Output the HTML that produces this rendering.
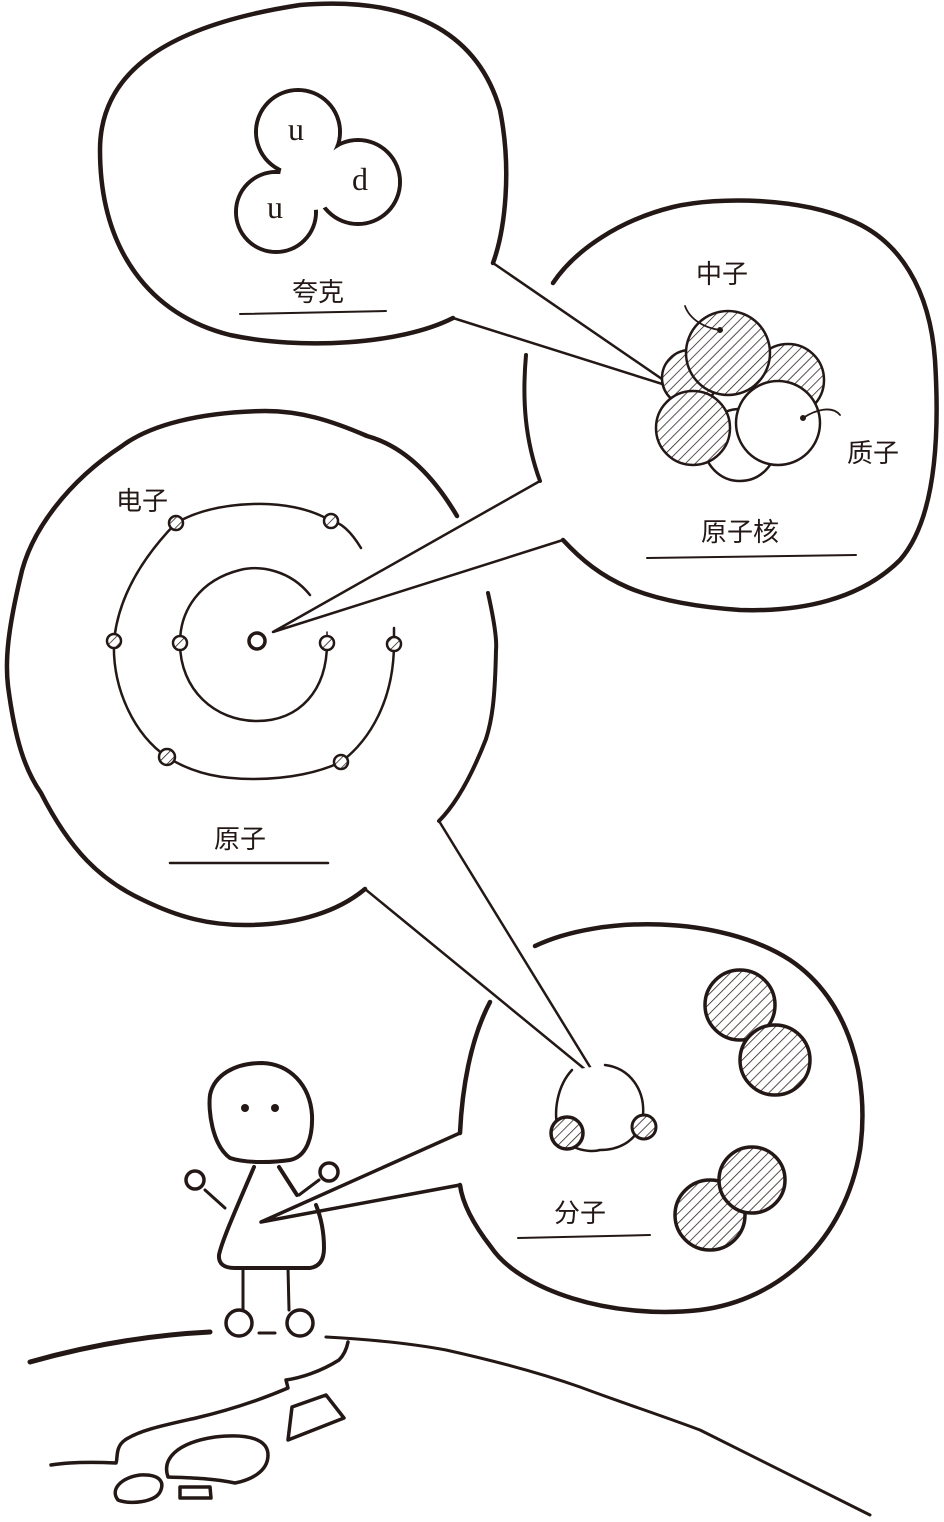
<!DOCTYPE html>
<html><head><meta charset="utf-8"><style>
html,body{margin:0;padding:0;background:#fff}
svg{display:block}
text{font-family:"Liberation Sans","Noto Sans CJK SC",sans-serif;fill:#231815}
</style></head><body>
<svg width="944" height="1522" viewBox="0 0 944 1522" xmlns="http://www.w3.org/2000/svg">
<defs>
<pattern id="h" width="7" height="7" patternUnits="userSpaceOnUse" patternTransform="rotate(45)">
<rect width="7" height="7" fill="#fff"/><line x1="0" y1="0" x2="0" y2="7" stroke="#231815" stroke-width="1.5"/>
</pattern>
</defs>
<g fill="none" stroke="#231815" stroke-linecap="round" stroke-linejoin="round">
<!-- quark bubble -->
<path stroke-width="4.5" d="M453,318 C400,345 300,350 230,335 C150,315 100,250 100,150 C100,70 170,25 300,5 C420,-5 480,40 500,110 C512,170 505,230 493,263"/>
<path stroke-width="2.5" d="M493,263 L675,388 L453,318"/>
<!-- trefoil -->
<g stroke-width="4">
<circle cx="298" cy="132" r="42"/><circle cx="358" cy="182" r="42"/><circle cx="276" cy="212" r="40"/>
</g>
<g fill="#fff" stroke="none">
<circle cx="298" cy="132" r="40"/><circle cx="358" cy="182" r="40"/><circle cx="276" cy="212" r="38"/><circle cx="312" cy="178" r="32"/>
</g>
<path stroke-width="2" d="M240,314 L386,311"/>
<!-- nucleus bubble -->
<path stroke-width="4.5" d="M563,540 C600,580 640,603 740,610 C800,612 860,600 900,560 C935,520 940,440 935,360 C930,290 900,240 850,220 C800,198 720,196 673,207 C620,220 575,250 553,283"/>
<path stroke-width="4" d="M526,355 C522,400 525,440 540,481"/>
<path stroke-width="2.5" d="M540,481 L273,632 L563,540"/>
<!-- nucleus spheres -->
<g stroke-width="2.5">
<circle cx="740" cy="445" r="36" fill="#fff"/>
<circle cx="788" cy="380" r="36" fill="url(#h)"/>
<circle cx="690" cy="378" r="28" fill="url(#h)"/>
<circle cx="728" cy="353" r="42" fill="url(#h)"/>
<circle cx="693" cy="428" r="37" fill="url(#h)"/>
<circle cx="778" cy="423" r="42" fill="#fff"/>
</g>
<path stroke-width="1.8" d="M685,306 C690,320 705,328 720,330"/>
<path stroke-width="1.8" d="M803,418 C815,410 832,405 840,415"/>
<circle cx="720" cy="330" r="2.5" fill="#231815"/><circle cx="803" cy="418" r="2.5" fill="#231815"/>
<path stroke-width="2" d="M647,558 L856,555"/>
<!-- atom bubble -->
<path stroke-width="4.5" d="M457,516 C430,470 400,445 367,436 C330,420 300,411 265,411 C200,412 150,425 122,446 C70,480 30,530 20,579 C8,630 5,660 8,686 C15,740 25,770 41,793 C70,850 100,880 143,900 C180,918 210,925 245,925 C300,925 340,910 365,889"/>
<path stroke-width="4" d="M488,593 C494,620 497,640 496,650 C495,700 492,720 486,739 C470,780 455,805 439,821"/>
<path stroke-width="2.5" d="M365,889 L598,1080 L439,821"/>
<!-- orbits -->
<path stroke-width="2.5" d="M310,595 C290,570 260,565 240,570 C200,580 180,610 180,643 C180,690 215,721 257,721 C300,721 327,690 327,643"/>
<path stroke-width="2.5" d="M361,548 C350,530 340,522 331,521 C310,508 280,503 253,504 C220,505 195,512 176,523 C140,560 118,600 114,641 C112,690 135,735 167,757 C195,775 225,779 253,779 C290,779 320,772 341,762 C370,740 394,700 394,643 L394,628"/>
<path stroke-width="1.5" d="M327,643 L327,632"/>
<g stroke-width="2.5" fill="url(#h)">
<circle cx="176" cy="523" r="7"/><circle cx="331" cy="521" r="7"/><circle cx="114" cy="641" r="7"/><circle cx="180" cy="643" r="7"/>
<circle cx="327" cy="643" r="7"/><circle cx="394" cy="644" r="7"/><circle cx="167" cy="757" r="8"/><circle cx="341" cy="762" r="7"/>
</g>
<circle cx="257" cy="641" r="8" stroke-width="3.5" fill="#fff"/>
<path stroke-width="2.5" d="M170,863 L328,863"/>
<!-- molecule bubble -->
<path stroke-width="4.5" d="M535,946 C600,915 720,915 790,960 C850,1000 870,1080 860,1150 C845,1240 780,1300 700,1310 C610,1320 520,1290 491,1247 C470,1220 462,1200 460,1185"/>
<path stroke-width="4.5" d="M460,1133 C462,1090 470,1040 490,1002"/>
<path stroke-width="3.5" d="M460,1185 L261,1222 L460,1133"/>
<!-- molecule contents -->
<path stroke-width="2.5" fill="#fff" d="M572,1070 C558,1085 553,1110 558,1130 C565,1150 590,1153 600,1150 C620,1150 640,1140 643,1115 C645,1090 630,1068 605,1065"/>
<circle cx="567" cy="1133" r="16" stroke-width="3.5" fill="url(#h)"/>
<circle cx="644" cy="1127" r="12" stroke-width="3" fill="url(#h)"/>
<g stroke-width="3.5" fill="url(#h)">
<circle cx="740" cy="1005" r="35"/><circle cx="775" cy="1060" r="35"/>
<circle cx="710" cy="1215" r="35"/><circle cx="752" cy="1180" r="33"/>
</g>
<path stroke-width="2" d="M518,1238 L650,1235"/>
<!-- stick figure -->
<path stroke-width="4" d="M230,1158 C212,1145 208,1110 210,1095 C214,1075 235,1063 262,1063 C290,1064 310,1085 312,1115 C313,1140 305,1157 290,1160 C270,1163 245,1163 230,1158 Z"/>
<circle cx="245" cy="1108" r="4" fill="#231815" stroke="none"/><circle cx="275" cy="1108" r="4" fill="#231815" stroke="none"/>
<path stroke-width="4" d="M254,1167 C240,1200 222,1240 219,1255 Q218,1268 235,1268 L310,1268 Q324,1266 324,1248 C324,1230 320,1215 316,1205"/>
<path stroke-width="4" d="M279,1167 L297,1195"/>
<path stroke-width="3" d="M225,1208 L205,1190 M299,1195 L319,1180"/>
<circle cx="195" cy="1180" r="9" stroke-width="3.5" fill="#fff"/>
<circle cx="329" cy="1172" r="9" stroke-width="3.5" fill="#fff"/>
<path stroke-width="3" d="M243,1268 L243,1310 M288,1268 L289,1310"/>
<circle cx="239" cy="1323" r="13" stroke-width="3.5" fill="#fff"/>
<circle cx="300" cy="1323" r="13" stroke-width="3.5" fill="#fff"/>
<path stroke-width="3" d="M259,1333 L275,1333"/>
<!-- ground -->
<path stroke-width="5" d="M30,1362 C90,1345 150,1335 210,1332"/>
<path stroke-width="3" d="M326,1337 C380,1340 420,1345 446,1350 C500,1362 540,1373 580,1387 C620,1402 660,1415 700,1430 C760,1460 820,1490 870,1515"/>
<path stroke-width="3.5" d="M348,1342 C346,1352 342,1357 339,1360 C320,1372 300,1378 286,1380 L288,1388 C260,1400 230,1410 196,1418 C165,1425 140,1430 125,1440 C115,1447 118,1458 116,1463 C95,1462 70,1462 51,1465"/>
<path stroke-width="3.5" d="M168,1477 C162,1460 175,1443 215,1437 C250,1433 268,1440 268,1455 C268,1472 250,1480 235,1483 C210,1478 190,1478 168,1477 Z"/>
<path stroke-width="3.5" d="M118,1500 C110,1490 120,1478 140,1475 C160,1474 165,1482 160,1492 C155,1502 130,1505 118,1500 Z"/>
<path stroke-width="3.5" d="M180,1487 L210,1487 L211,1498 L180,1498 Z"/>
<path stroke-width="3.5" d="M292,1407 L326,1395 L344,1418 L288,1440 Z"/>
</g>
<g font-size="26">
<text x="318" y="301" text-anchor="middle">夸克</text>
<text x="722" y="283" text-anchor="middle">中子</text>
<text x="873" y="462" text-anchor="middle">质子</text>
<text x="740" y="541" text-anchor="middle">原子核</text>
<text x="142" y="510" text-anchor="middle">电子</text>
<text x="240" y="848" text-anchor="middle">原子</text>
<text x="580" y="1222" text-anchor="middle">分子</text>
</g>
<g font-size="32">
<text x="296" y="140" text-anchor="middle" style="font-family:'Liberation Serif',serif">u</text>
<text x="360" y="190" text-anchor="middle" style="font-family:'Liberation Serif',serif">d</text>
<text x="275" y="218" text-anchor="middle" style="font-family:'Liberation Serif',serif">u</text>
</g>
</svg>
</body></html>
